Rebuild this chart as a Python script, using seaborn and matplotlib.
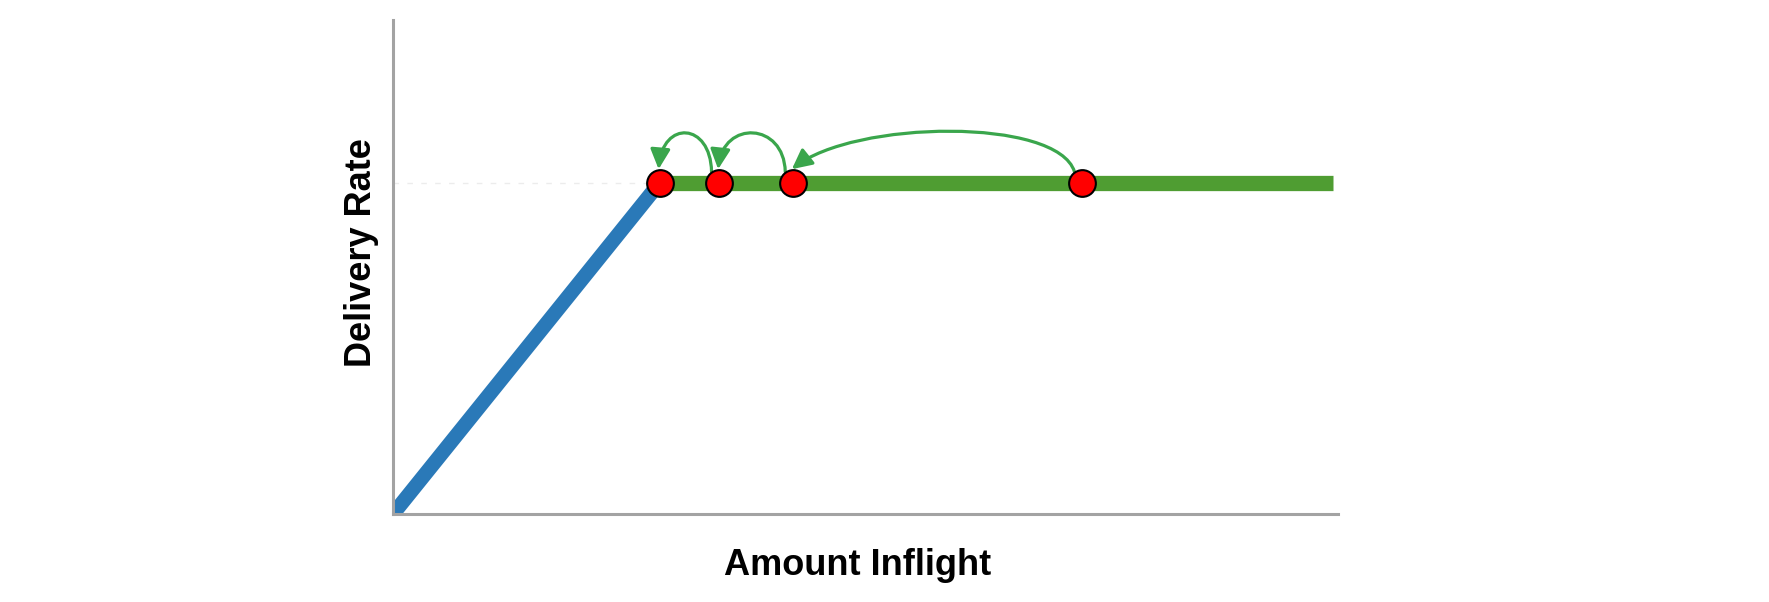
import seaborn as sns
import pandas as pd
import matplotlib.pyplot as plt
from matplotlib.patches import FancyArrowPatch
from matplotlib.path import Path

# ramp (blue) and plateau (green), in arbitrary units
ramp_x = [0, 28.2]
ramp_y = [0, 67]
plateau_x = [28.2, 99.5]
plateau_y = [67, 67]

# probing points on the plateau
dots_x = [28.2, 34.5, 42.3, 72.9]
dots_y = [67, 67, 67, 67]

# arrows: (from dot, to dot)
hops = [(1, 0), (2, 1), (3, 2)]

sns.set_theme(style="white")
plt.rcParams['font.family'] = ['Liberation Sans', 'DejaVu Sans']

fig = plt.figure(figsize=(17.69, 6.02), dpi=100)
ax = fig.add_axes([0.2222, 0.1462, 0.5342, 0.8206])

ramp = pd.DataFrame({'x': ramp_x, 'y': ramp_y})
plateau = pd.DataFrame({'x': plateau_x, 'y': plateau_y})
dots = pd.DataFrame({'x': dots_x, 'y': dots_y})

# faint guide from the axis to the knee
ax.plot([0, ramp_x[1]], [ramp_y[1], ramp_y[1]], color='#ececec', lw=1,
        ls=(0, (4, 6)), zorder=1)

sns.lineplot(data=ramp, x='x', y='y', color='#2a79b8', lw=10.5,
             solid_capstyle='round', sort=False, estimator=None, ax=ax, zorder=2)
sns.lineplot(data=plateau, x='x', y='y', color='#4f9d32', lw=11,
             solid_capstyle='butt', sort=False, estimator=None, ax=ax, zorder=2)
sns.scatterplot(data=dots, x='x', y='y', color='#ff0000', s=370,
                edgecolor='black', linewidth=1.5, ax=ax, zorder=4)

# curved arrows going back along the plateau
for a, b in hops:
    x0, y0 = dots_x[a] - 0.8, dots_y[a] + 2.3
    x1, y1 = dots_x[b] - 0.1, dots_y[b] + 2.8
    span = x0 - x1
    if span < 10:
        c1 = (x0 - 0.02 * span, y0 + 10)
        c2 = (x1 + 0.08 * span, y1 + 10)
    else:
        c1 = (x0 - 0.06 * span, y0 + 11)
        c2 = (x1 + 0.22 * span, y1 + 10)
    path = Path([(x0, y0), c1, c2, (x1, y1)],
                [Path.MOVETO, Path.CURVE4, Path.CURVE4, Path.CURVE4])
    arr = FancyArrowPatch(path=path, arrowstyle='-|>', mutation_scale=30,
                          color='#3aa64c', lw=2.3, zorder=3)
    ax.add_patch(arr)

ax.set_xlim(0, 100)
ax.set_ylim(0, 100)
ax.set_xticks([])
ax.set_yticks([])
sns.despine(ax=ax)
for s in ['left', 'bottom']:
    ax.spines[s].set_color('#a3a3a3')
    ax.spines[s].set_linewidth(2.2)

ax.set_xlabel('Amount Inflight', fontsize=26, fontweight='bold', color='black')
ax.set_ylabel('Delivery Rate', fontsize=26, fontweight='bold', color='black')
ax.xaxis.set_label_coords(0.492, -0.068)
ax.yaxis.set_label_coords(-0.015, 0.53)

plt.savefig('out.png', dpi=100)
